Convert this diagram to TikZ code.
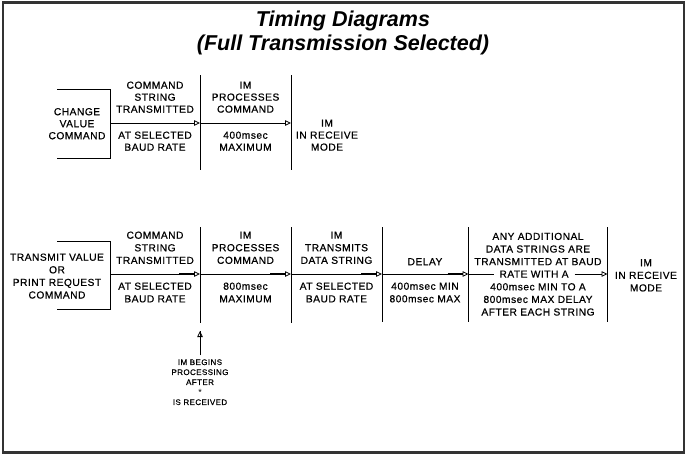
\documentclass[tikz,border=0pt]{standalone}
\usepackage{fontspec}
\setmainfont{Liberation Sans}
\newfontfamily\cadfont[LetterSpace=5,FakeBold=0.6]{Liberation Sans}
\usetikzlibrary{arrows.meta}
\begin{document}
\begin{tikzpicture}[x=1pt,y=-1pt,
  lbl/.style={font=\cadfont\fontsize{10.2}{12}\selectfont, align=center, inner sep=0pt, anchor=north},
  lblb/.style={font=\cadfont\fontsize{10.2}{12.6}\selectfont, align=center, inner sep=0pt, anchor=north},
  note/.style={font=\cadfont\fontsize{8}{10}\selectfont, align=center, inner sep=0pt, anchor=north},
  ttl/.style={font=\bfseries\itshape\fontsize{21.5}{22}\selectfont, inner sep=0pt, anchor=base},
  ln/.style={line width=0.8pt},
  arr/.style={ln, -{Triangle[open, length=6pt, width=5.5pt, line width=0.8pt]}},
  thk/.style={line width=1.5pt},
  frame/.style={line width=2.5pt, draw=black!80}]
\useasboundingbox (0,0) rectangle (686,455);
\draw[frame] (3,2.5) rectangle (684,452.5);
% title
\node[ttl] (title1) at (343,27) {Timing Diagrams};
\node[ttl] (title2) at (343,50) {(Full Transmission Selected)};

% ---------------- top row ----------------
\coordinate (tb1) at (57,89);
\coordinate (tb2) at (110,89);
\coordinate (tb3) at (110,158);
\coordinate (tb4) at (57,158);
\draw[ln] (tb1) -- (tb2) -- (tb3) -- (tb4);
\coordinate (tv1t) at (200,75);
\coordinate (tv1b) at (200,170);
\coordinate (tv2t) at (291,75);
\coordinate (tv2b) at (291,170);
\draw[ln] (tv1t) -- (tv1b);
\draw[ln] (tv2t) -- (tv2b);
\coordinate (ta0) at (110,123);
\coordinate (ta1) at (200,123);
\coordinate (ta2) at (291,123);
\draw[arr] (ta0) -- (ta1);
\draw[arr] (ta1) -- (ta2);

\node[lbl] (tcmd) at (77,107.9) {CHANGE\\VALUE\\COMMAND};
\node[lbl] (tc1u) at (155,81.4) {COMMAND\\STRING\\TRANSMITTED};
\node[lbl] (tc1l) at (155,131.4) {AT SELECTED\\BAUD RATE};
\node[lbl] (tc2u) at (245.5,81.4) {IM\\PROCESSES\\COMMAND};
\node[lbl] (tc2l) at (245.5,131.4) {400msec\\MAXIMUM};
\node[lbl] (tc3) at (327,119.4) {IM\\IN RECEIVE\\MODE};

% ---------------- bottom row ----------------
\coordinate (bb1) at (57,241);
\coordinate (bb2) at (110,241);
\coordinate (bb3) at (110,309);
\coordinate (bb4) at (57,309);
\draw[ln] (bb1) -- (bb2) -- (bb3) -- (bb4);
\coordinate (bv1t) at (200,227);
\coordinate (bv1b) at (200,323);
\coordinate (bv2t) at (291,227);
\coordinate (bv2b) at (291,323);
\coordinate (bv3t) at (382,227);
\coordinate (bv3b) at (382,322);
\coordinate (bv4t) at (468.5,227);
\coordinate (bv4b) at (468.5,322);
\coordinate (bv5t) at (607.5,227);
\coordinate (bv5b) at (607.5,322);
\foreach \v in {1,...,5} \draw[ln] (bv\v t) -- (bv\v b);

\coordinate (ba0) at (110,274);
\coordinate (ba1) at (200,274);
\coordinate (ba2) at (291,274);
\coordinate (ba3) at (382,274);
\coordinate (ba4) at (468.5,274);
\coordinate (ba5) at (607.5,274);
\draw[arr] (ba0) -- (ba1);
\draw[arr] (ba1) -- (ba2);
\draw[arr] (ba2) -- (ba3);
\draw[arr] (ba3) -- (ba4);
\foreach \p in {1,...,4} \draw[thk] ([xshift=-21pt]ba\p) -- ([xshift=-6pt]ba\p);

\node[lblb] (bcmd) at (57,253.4) {TRANSMIT VALUE\\OR\\PRINT REQUEST\\COMMAND};
\node[lblb] (bc1u) at (155,231.4) {COMMAND\\STRING\\TRANSMITTED};
\node[lblb] (bc1l) at (155,282.4) {AT SELECTED\\BAUD RATE};
\node[lblb] (bc2u) at (245.5,231.4) {IM\\PROCESSES\\COMMAND};
\node[lblb] (bc2l) at (245.5,282.4) {800msec\\MAXIMUM};
\node[lblb] (bc3u) at (336.5,231.4) {IM\\TRANSMITS\\DATA STRING};
\node[lblb] (bc3l) at (336.5,282.4) {AT SELECTED\\BAUD RATE};
\node[lblb] (bc4u) at (425,258) {DELAY};
\node[lblb] (bc4l) at (425,282.4) {400msec MIN\\800msec MAX};
\node[lblb] (bc5u) at (538,232.6) {ANY ADDITIONAL\\DATA STRINGS ARE\\TRANSMITTED AT BAUD};
\node[lblb] (bc5m) at (534,270.4) {RATE WITH A};
\node[lblb] (bc5l) at (538,283) {400msec MIN TO A\\800msec MAX DELAY\\AFTER EACH STRING};
\node[lblb] (bc6) at (646,259) {IM\\IN RECEIVE\\MODE};
\coordinate (rl) at ([xshift=-5pt]bc5m.west |- ba4);
\coordinate (rr) at ([xshift=6pt]bc5m.east |- ba5);
\draw[ln] (ba4) -- (rl);
\draw[arr] (rr) -- (ba5);

% ---------------- annotation ----------------
\coordinate (an0) at (200,355);
\coordinate (an1) at (200,331);
\draw[ln] (an0) -- (an1);
\draw[arr] (an0) -- (an1);
\node[note] (nt1) at (200,359.2) {IM BEGINS\\PROCESSING\\AFTER};
\node[font=\fontsize{9}{9}\selectfont, inner sep=0pt] (nt2) at (200,392) {*};
\node[note] (nt3) at (200,399.2) {IS RECEIVED};
\end{tikzpicture}
\end{document}
